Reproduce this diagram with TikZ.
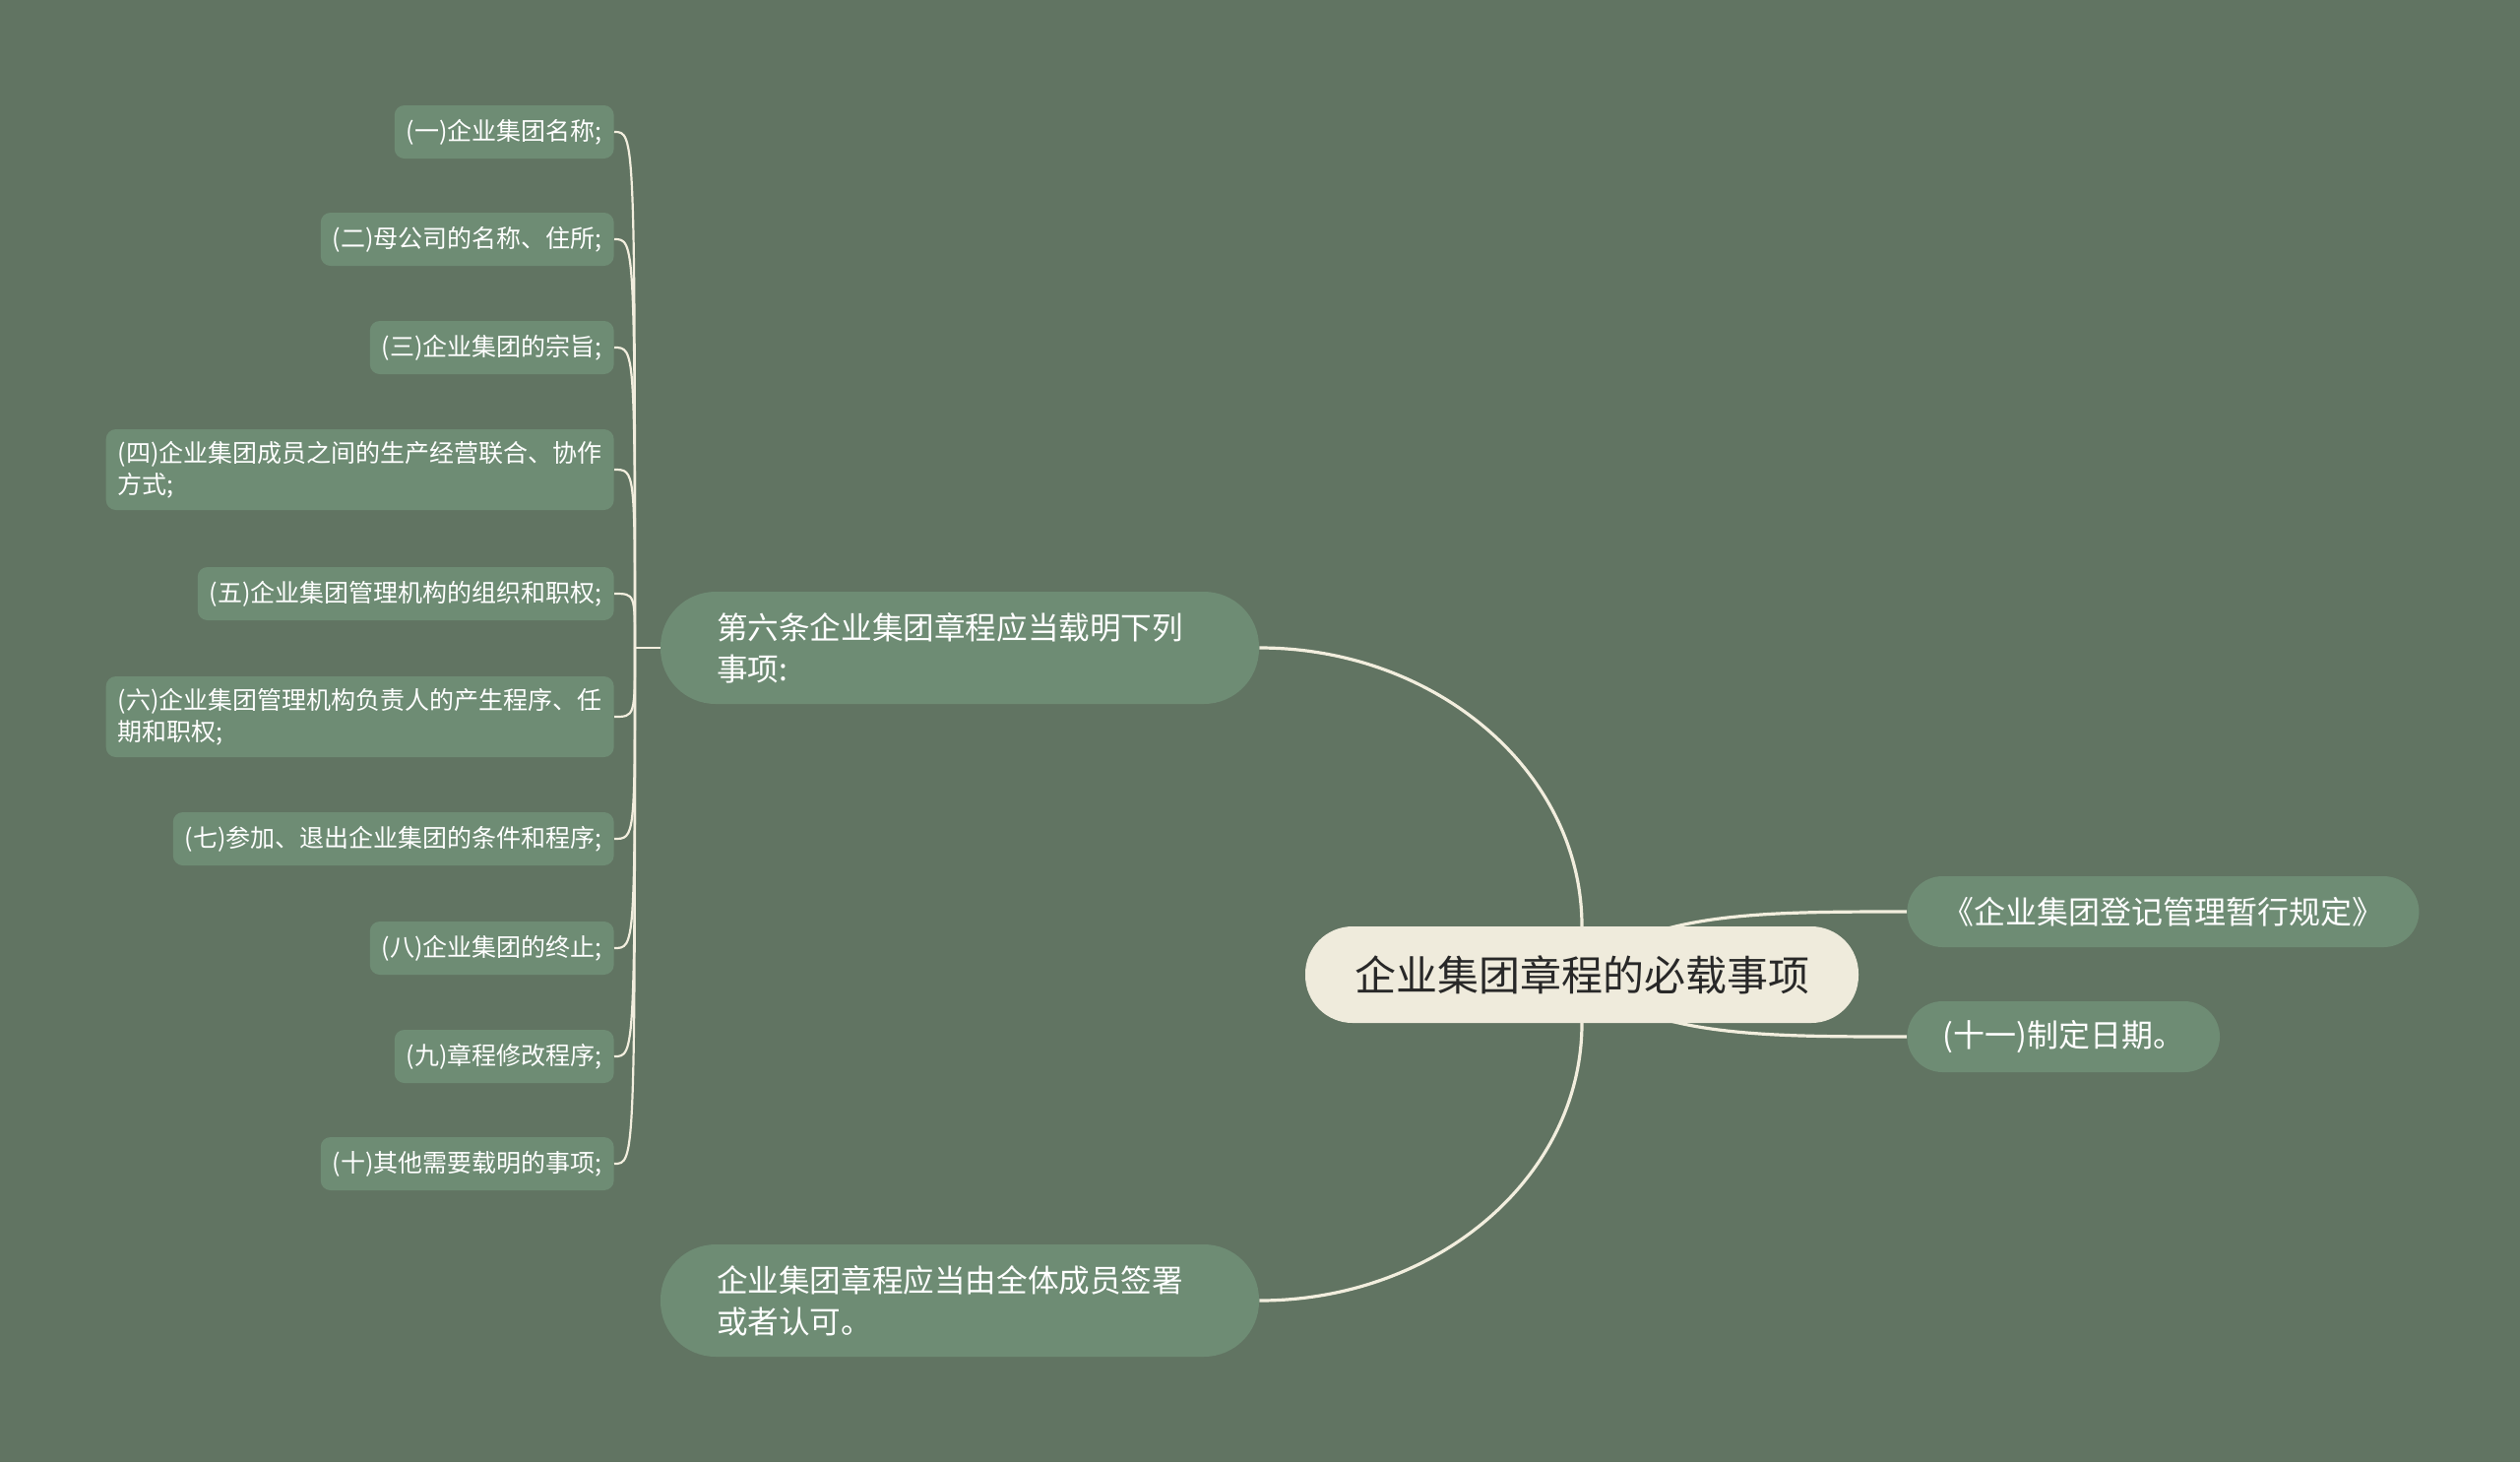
\documentclass[tikz,border=0pt]{standalone}
\usepackage{fontspec}
\setmainfont{Noto Sans CJK SC}
\usetikzlibrary{backgrounds}

\definecolor{bgc}{RGB}{97,116,98}
\definecolor{nodec}{RGB}{110,140,116}
\definecolor{rootc}{RGB}{239,235,220}
\definecolor{linec}{RGB}{242,238,222}
\definecolor{roott}{RGB}{40,40,40}

\begin{document}
\begin{tikzpicture}[x=0.5pt,y=0.5pt,yscale=-1,
  rootbox/.style={fill=rootc,text=roott,rounded corners=24pt,font=\fontsize{21}{26}\selectfont,minimum height=49pt,inner xsep=25pt,inner ysep=0pt},
  secbox/.style={fill=nodec,text=white,rounded corners=28pt,font=\fontsize{15.8}{21}\selectfont,align=left,minimum height=57pt,text width=247pt,inner xsep=28.5pt},
  sidebox/.style={fill=nodec,text=white,rounded corners=18pt,font=\fontsize{16}{20}\selectfont,minimum height=36pt,inner xsep=18pt,inner ysep=0pt,anchor=west},
  leafbox/.style={fill=nodec,text=white,rounded corners=5pt,font=\fontsize{12.5}{16}\selectfont,align=left,minimum height=27pt,inner xsep=6pt,inner ysep=6pt,anchor=east},
  link/.style={draw=linec,line width=1.6pt},
  twig/.style={draw=linec,line width=1.1pt}]

% background
\begin{pgfonlayer}{background}
\fill [bgc] (0,0) rectangle (2560,1485);
\end{pgfonlayer}
\useasboundingbox (0,0) rectangle (2560,1485);

% Root
\node [rootbox] (root) at (1607,990) {企业集团章程的必载事项};

% Main branches
\node [secbox] (rules) at (975,658) {第六条企业集团章程应当载明下列\\事项:};
\node [secbox] (sign) at (975,1321) {企业集团章程应当由全体成员签署\\或者认可。};
\node [sidebox] (regl) at (1937,926) {《企业集团登记管理暂行规定》};
\node [sidebox] (date) at (1937,1053) {(十一)制定日期。};

% Items
\node [leafbox] (item1) at (624,134) {(一)企业集团名称;};
\node [leafbox] (item2) at (624,243) {(二)母公司的名称、住所;};
\node [leafbox] (item3) at (624,353) {(三)企业集团的宗旨;};
\node [leafbox] (item4) at (624,477) {(四)企业集团成员之间的生产经营联合、协作\\方式;};
\node [leafbox] (item5) at (624,603) {(五)企业集团管理机构的组织和职权;};
\node [leafbox] (item6) at (624,728) {(六)企业集团管理机构负责人的产生程序、任\\期和职权;};
\node [leafbox] (item7) at (624,852) {(七)参加、退出企业集团的条件和程序;};
\node [leafbox] (item8) at (624,963) {(八)企业集团的终止;};
\node [leafbox] (item9) at (624,1073) {(九)章程修改程序;};
\node [leafbox] (item10) at (624,1182) {(十)其他需要载明的事项;};

\coordinate (hub) at (645,658);

% Connectors
\begin{pgfonlayer}{background}
\draw [link] (rules.east) .. controls +(180,0) and +(0,-156) .. (root.north) -- (root.center);
\draw [link] (sign.east) .. controls +(180,0) and +(0,156) .. (root.south) -- (root.center);
\draw [link] (root.center) .. controls +(63,-64) and +(-150,0) .. (regl.west);
\draw [link] (root.center) .. controls +(63,63) and +(-150,0) .. (date.west);
\end{pgfonlayer}

\draw [twig] (hub) -- (rules.west);
\draw [twig] (hub) .. controls (hub |- item1.east) .. (item1.east);
\draw [twig] (hub) .. controls (hub |- item2.east) .. (item2.east);
\draw [twig] (hub) .. controls (hub |- item3.east) .. (item3.east);
\draw [twig] (hub) .. controls (hub |- item4.east) .. (item4.east);
\draw [twig] (hub) .. controls (hub |- item5.east) .. (item5.east);
\draw [twig] (hub) .. controls (hub |- item6.east) .. (item6.east);
\draw [twig] (hub) .. controls (hub |- item7.east) .. (item7.east);
\draw [twig] (hub) .. controls (hub |- item8.east) .. (item8.east);
\draw [twig] (hub) .. controls (hub |- item9.east) .. (item9.east);
\draw [twig] (hub) .. controls (hub |- item10.east) .. (item10.east);

\end{tikzpicture}
\end{document}
